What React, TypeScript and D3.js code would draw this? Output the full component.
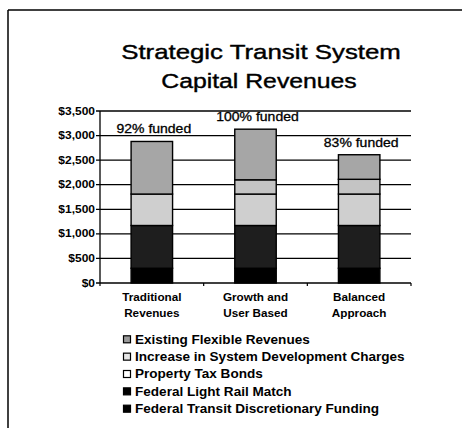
import React from "react";
import * as d3 from "d3";

const categories = [["Traditional", "Revenues"], ["Growth and", "User Based"], ["Balanced", "Approach"]];
const fundedLabels = ["92% funded", "100% funded", "83% funded"];
const seriesNames = [
  "Federal Transit Discretionary Funding",
  "Federal Light Rail Match",
  "Property Tax Bonds",
  "Increase in System Development Charges",
  "Existing Flexible Revenues",
];
const ftdf = [300, 300, 300];
const flrm = [870, 870, 870];
const ptb = [640, 640, 640];
const sdc = [0, 290, 300];
const efr = [1070, 1030, 500];
const yTicks = [0, 500, 1000, 1500, 2000, 2500, 3000, 3500];

const seriesValues = [ftdf, flrm, ptb, sdc, efr];
const fills = ["#000000", "#1e1e1e", "#cfcfcf", "#c4c4c4", "#a6a6a6"];
const legendFills = ["#000000", "#000000", "#ffffff", "#e6e6e6", "#9a9a9a"];

const W = 462, H = 428;
const FONT = "'Liberation Sans', Arial, sans-serif";

function SText({ x, y, sx = 1, anchor = "middle", size, weight = "normal", sw = 0, children }: any) {
  return (
    <g transform={`translate(${x},${y}) scale(${sx},1)`}>
      <text
        x={0}
        y={0}
        textAnchor={anchor}
        fontSize={size}
        fontWeight={weight}
        fontFamily={FONT}
        fill="#000"
        stroke={sw ? "#000" : "none"}
        strokeWidth={sw}
      >
        {children}
      </text>
    </g>
  );
}

export default function App() {
  const left = 100, right = 411, top = 111, bottom = 283;
  const x = d3.scaleBand<number>().domain([0, 1, 2]).range([left, right]).paddingInner(0.6).paddingOuter(0.3);
  const y = d3.scaleLinear().domain([0, 3500]).range([bottom, top]);

  const rows = categories.map((_, i) => {
    const r: any = { i };
    seriesNames.forEach((n, k) => (r[n] = seriesValues[k][i]));
    return r;
  });
  const stacked = d3.stack<any>().keys(seriesNames)(rows);
  const totals = rows.map((_, i) => d3.sum(seriesValues, (s) => s[i]));
  const step = x.step();

  return (
    <svg width={W} height={H} style={{ position: "absolute", left: 0, top: 0, background: "#fff" }}>
      {/* frame */}
      <line x1={8} y1={10} x2={W} y2={10} stroke="#000" strokeWidth={1.5} />
      <line x1={8} y1={10} x2={8} y2={H} stroke="#000" strokeWidth={1.5} />

      {/* title */}
      <SText x={261} y={59} sx={1.23} size={21} sw={0.4}>Strategic Transit System</SText>
      <SText x={259} y={88} sx={1.18} size={21} sw={0.4}>Capital Revenues</SText>

      {/* gridlines */}
      {yTicks.map((t) => (
        <g key={t}>
          <line x1={left - 4} x2={right} y1={y(t)} y2={y(t)} stroke="#000" strokeWidth={1.3} />
          <SText x={95} y={y(t) + 3.5} sx={1.2} anchor="end" size={10} weight="bold">
            {d3.format("$,")(t)}
          </SText>
        </g>
      ))}
      <line x1={left} x2={left} y1={top} y2={bottom} stroke="#000" strokeWidth={1.3} />
      <line x1={right} x2={right} y1={bottom} y2={bottom + 3} stroke="#000" strokeWidth={1.2} />
      {[0, 1, 2].map((i) => (
        <line key={i} x1={left + i * step} x2={left + i * step} y1={bottom} y2={bottom + 3} stroke="#000" strokeWidth={1.2} />
      ))}

      {/* bars */}
      {stacked.map((layer, k) =>
        layer.map((d, i) =>
          d[1] - d[0] > 0 ? (
            <rect
              key={`${k}-${i}`}
              x={x(i)!}
              width={x.bandwidth()}
              y={y(d[1])}
              height={y(d[0]) - y(d[1])}
              fill={fills[k]}
              stroke="#000"
              strokeWidth={1.4}
            />
          ) : null
        )
      )}

      {/* funded labels */}
      {fundedLabels.map((l, i) => (
        <SText key={l} x={x(i)! + x.bandwidth() / 2 + 2} y={y(totals[i]) - 8} sx={1.12} size={12.5} sw={0.3}>
          {l}
        </SText>
      ))}

      {/* category labels */}
      {categories.map((c, i) => (
        <g key={i}>
          <SText x={x(i)! + x.bandwidth() / 2} y={301} sx={1.02} size={11.5} weight="bold">{c[0]}</SText>
          <SText x={x(i)! + x.bandwidth() / 2} y={316.5} sx={1.02} size={11.5} weight="bold">{c[1]}</SText>
        </g>
      ))}

      {/* legend */}
      {seriesNames
        .map((n, k) => ({ n, k }))
        .reverse()
        .map(({ n, k }, j) => {
          const cy = 339.3 + j * 17.35;
          return (
            <g key={n}>
              <rect x={123.5} y={cy - 3.5} width={7} height={7} fill={legendFills[k]} stroke="#000" strokeWidth={1.2} />
              <SText x={135} y={cy + 4.3} sx={1.13} anchor="start" size={12} weight="bold">{n}</SText>
            </g>
          );
        })}
    </svg>
  );
}
